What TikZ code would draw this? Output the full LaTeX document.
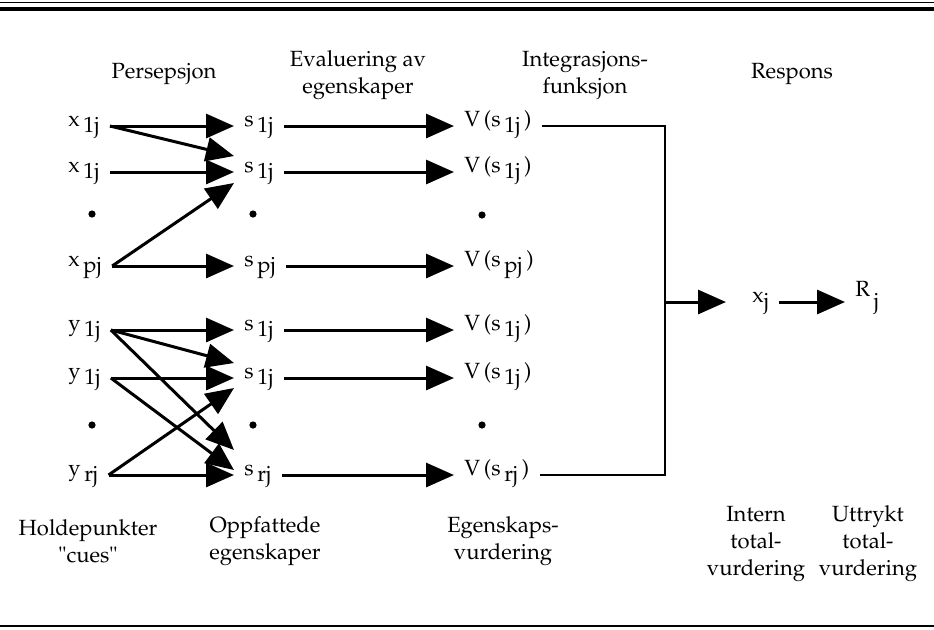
\documentclass[tikz,border=0pt]{standalone}
\usepackage[T1]{fontenc}
\usepackage{mathpazo}
\usetikzlibrary{arrows.meta}
\newcommand{\lowsub}[1]{\raisebox{-3.2pt}{#1}}

\begin{document}
\begin{tikzpicture}[x=.5pt,y=-.5pt,
    lbl/.style={inner xsep=5pt,inner ysep=0pt,anchor=base west,font=\fontsize{11}{13}\selectfont},
    txt/.style={align=center,font=\fontsize{11}{13.5}\selectfont},
    arr/.style={-{Triangle[length=14pt,width=12pt]},line width=1.5pt},
    bus/.style={line width=1.3pt},
    dot/.style={circle,fill,inner sep=0pt,minimum size=3.6pt}
  ]
  \useasboundingbox (0,0) rectangle (934,629);
  % rules above and below
  \draw[line width=.8pt] (0,2.5) -- (934,2.5);
  \draw[line width=2.4pt] (0,9) -- (934,9);
  \draw[line width=.8pt] (0,626) -- (934,626);

  % column headings
  \node[txt] (hPer) at (164,74) {Persepsjon};
  \node[txt] (hEval) at (358,75) {Evaluering av\\egenskaper};
  \node[txt] (hInt) at (585,75) {Integrasjons-\\funksjon};
  \node[txt] (hResp) at (792,74) {Respons};

  % cues, perceived attributes, evaluations
  \foreach \n/\yy/\t in {x1/126/x\lowsub{\,1j},x2/172/x\lowsub{\,1j},xp/266/x\lowsub{\,pj},
      y1/330/y\lowsub{\,1j},y2/378/y\lowsub{\,1j},yr/475/y\lowsub{\,rj}}
    \node[lbl] (\n) at (58,\yy) {\t};
  \foreach \n/\yy/\t in {s1/126/1j,s2/172/1j,sp/266/pj,s3/330/1j,s4/378/1j,sr/475/rj}
    \node[lbl] (\n) at (234,\yy) {s\,\lowsub{\t}};
  \foreach \n/\yy/\t in {v1/126/1j,v2/172/1j,vp/266/pj,v3/330/1j,v4/378/1j,vr/475/rj}
    \node[lbl] (\n) at (454,\yy) {V\,(s\,\lowsub{\t}\,)};
  \foreach \n/\xx/\yy in {dx1/92/214,ds1/253/214,dv1/482/215,dx2/92/425,ds2/253/425,dv2/482/425}
    \node[dot] (\n) at (\xx,\yy) {};

  \foreach \s/\t in {x1/s1,x2/s2,xp/sp,y1/s3,y2/s4,yr/sr,s1/v1,s2/v2,sp/vp,s3/v3,s4/v4,sr/vr}
    \draw[arr] (\s.base east) -- (\t.base west);
  \foreach \s/\t/\d in {x1/s2/8,xp/s2/-5.5,y1/s4/7.5,y1/sr/12.5,y2/sr/2.5,yr/s4/-5}
    \draw[arr] (\s.base east) -- ([yshift=\d pt]\t.base west);

  % integration and response
  \node[lbl] (xj) at (742,302) {x\lowsub{j}};
  \node[lbl] (rj) at (845,302) {\raisebox{3pt}{R}\,\lowsub{j}};
  \coordinate (join) at (665,302);
  \draw[bus] (v1.base east) -| (join) |- (vr.base east);
  \draw[arr,shorten >=8pt] (join) -- (xj.base west);
  \draw[arr] (xj.base east) -- (rj.base west);

  % bottom captions
  \node[txt] (cCue) at (88,541) {Holdepunkter\\"cues"};
  \node[txt] (cOpp) at (265,541) {Oppfattede\\egenskaper};
  \node[txt] (cEgen) at (503,541) {Egenskaps-\\vurdering};
  \node[txt] (cInt) at (756,544) {Intern\\total-\\vurdering};
  \node[txt] (cUtt) at (868,544) {Uttrykt\\total-\\vurdering};
\end{tikzpicture}
\end{document}
